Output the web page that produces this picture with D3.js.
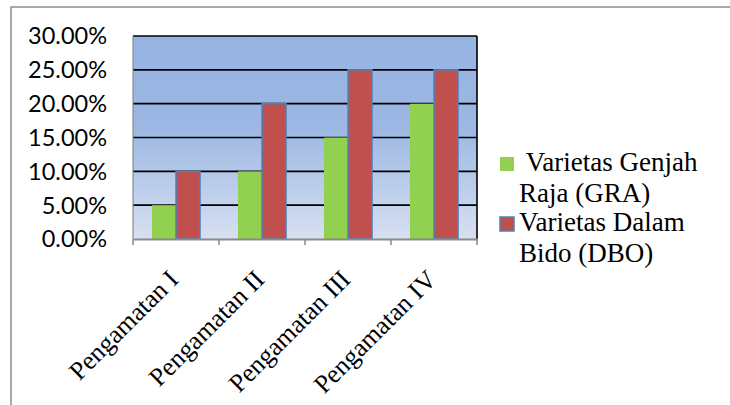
<!DOCTYPE html>
<html>
<head>
<meta charset="utf-8">
<script src="https://cdn.jsdelivr.net/npm/d3@7"></script>
<style>
  html, body { margin: 0; padding: 0; background: #fff; }
  svg { display: block; }
</style>
</head>
<body>
<svg id="chart" width="730" height="405"></svg>
<script>
// Observations and percentage values for each variety
const categories = ["Pengamatan I", "Pengamatan II", "Pengamatan III", "Pengamatan IV"];
const seriesNames = ["Varietas Genjah Raja (GRA)", "Varietas Dalam Bido (DBO)"];
const genjahRaja = [0.05, 0.10, 0.15, 0.20];
const dalamBido = [0.10, 0.20, 0.25, 0.25];
const yTicks = [0, 0.05, 0.10, 0.15, 0.20, 0.25, 0.30];

const colors = ["#92D050", "#C0504D"];
const serif = "'Liberation Serif', 'Times New Roman', Times, serif";
const sans = "Lato, Carlito, 'Noto Sans', sans-serif";
const svg = d3.select("#chart");

const plot = { left: 133, top: 36, right: 477, bottom: 239 };

// Outer frame (top and left edges)
svg.append("path")
  .attr("d", "M11,405 L11,7 L730,7")
  .attr("fill", "none")
  .attr("stroke", "#8c8c8c")
  .attr("stroke-width", 1.5);

const x0 = d3.scaleBand().domain(categories).range([plot.left, plot.right]).paddingInner(0).paddingOuter(0);
const x1 = d3.scaleBand().domain([0, 1]).range([0, x0.bandwidth()]).paddingOuter(0.79).paddingInner(0);
const y = d3.scaleLinear().domain([0, 0.30]).range([plot.bottom, plot.top]);

// Plot-area gradient background
const defs = svg.append("defs");
const grad = defs.append("linearGradient").attr("id", "bg").attr("x1", 0).attr("y1", 0).attr("x2", 0).attr("y2", 1);
grad.append("stop").attr("offset", "0").attr("stop-color", "#96b3e2");
grad.append("stop").attr("offset", "0.45").attr("stop-color", "#9cb7e3");
grad.append("stop").attr("offset", "1").attr("stop-color", "#d7e0f1");

svg.append("rect")
  .attr("x", plot.left).attr("y", plot.top)
  .attr("width", plot.right - plot.left).attr("height", plot.bottom - plot.top)
  .attr("fill", "url(#bg)");

// Horizontal gridlines
svg.append("g").selectAll("line")
  .data(yTicks.filter(d => d > 0))
  .join("line")
  .attr("x1", plot.left).attr("x2", plot.right)
  .attr("y1", d => y(d)).attr("y2", d => y(d))
  .attr("stroke", "#000").attr("stroke-width", 1.6);

// Right border of plot area
svg.append("line")
  .attr("x1", plot.right).attr("x2", plot.right)
  .attr("y1", plot.top).attr("y2", plot.bottom)
  .attr("stroke", "#000").attr("stroke-width", 1.6);

// Bars
const rows = categories.map((c, i) => ({ cat: c, vals: [genjahRaja[i], dalamBido[i]] }));
const groups = svg.append("g").selectAll("g")
  .data(rows).join("g")
  .attr("transform", d => `translate(${x0(d.cat)},0)`);

groups.selectAll("rect")
  .data(d => d.vals.map((v, k) => ({ v, k })))
  .join("rect")
  .attr("x", d => x1(d.k))
  .attr("y", d => y(d.v))
  .attr("width", x1.bandwidth())
  .attr("height", d => y(0) - y(d.v))
  .attr("fill", d => colors[d.k])
  .attr("stroke", d => d.k === 1 ? "#4f81bd" : "none")
  .attr("stroke-width", 1.5);

// Y axis (left edge line, labels)
svg.append("line")
  .attr("x1", plot.left).attr("x2", plot.left)
  .attr("y1", plot.top).attr("y2", plot.bottom)
  .attr("stroke", "#8a8a8a").attr("stroke-width", 1.2);

svg.append("g").selectAll("text")
  .data(yTicks).join("text")
  .attr("x", 107)
  .attr("y", d => y(d))
  .attr("dy", "0.36em")
  .attr("text-anchor", "end")
  .attr("font-family", sans)
  .attr("font-size", 23.5)
  .attr("fill", "#000")
  .text(d => d3.format(".2%")(d));

// X axis with boundary ticks
const xAxis = d3.axisBottom(x0).tickSize(0).tickFormat("");
const gx = svg.append("g").attr("transform", `translate(0,${plot.bottom})`).call(xAxis);
gx.select(".domain").attr("stroke", "#8a8a8a").attr("stroke-width", 1.8);
const boundaries = categories.map(c => x0(c)).concat([plot.right]);
gx.selectAll(".bound").data(boundaries).join("line")
  .attr("class", "bound")
  .attr("x1", d => d).attr("x2", d => d)
  .attr("y1", 0).attr("y2", 6)
  .attr("stroke", "#8a8a8a").attr("stroke-width", 1.5);

// Rotated category labels
svg.append("g").selectAll("text")
  .data(categories).join("text")
  .attr("text-anchor", "end")
  .attr("font-family", serif)
  .attr("font-size", 26)
  .attr("fill", "#000")
  .attr("transform", d => `translate(${x0(d) + x0.bandwidth() / 2 + 4},${plot.bottom + 42}) rotate(-45)`)
  .text(d => d);

// Legend
const legend = svg.append("g");
const legendText = [["\u00a0Varietas Genjah", "Raja (GRA)"], ["Varietas Dalam", "Bido (DBO)"]];
const legendTop = [171, 231];
legendText.forEach((lines, k) => {
  legend.append("rect")
    .attr("x", 500).attr("y", legendTop[k] - 14)
    .attr("width", 14).attr("height", 14)
    .attr("fill", colors[k])
    .attr("stroke", k === 1 ? "#4f81bd" : "none")
    .attr("stroke-width", 1.5);
  const t = legend.append("text")
    .attr("font-family", serif)
    .attr("font-size", 27)
    .attr("fill", "#000");
  lines.forEach((ln, j) => {
    t.append("tspan").attr("x", 519).attr("y", legendTop[k] + j * 31).text(ln);
  });
});
</script>
</body>
</html>
